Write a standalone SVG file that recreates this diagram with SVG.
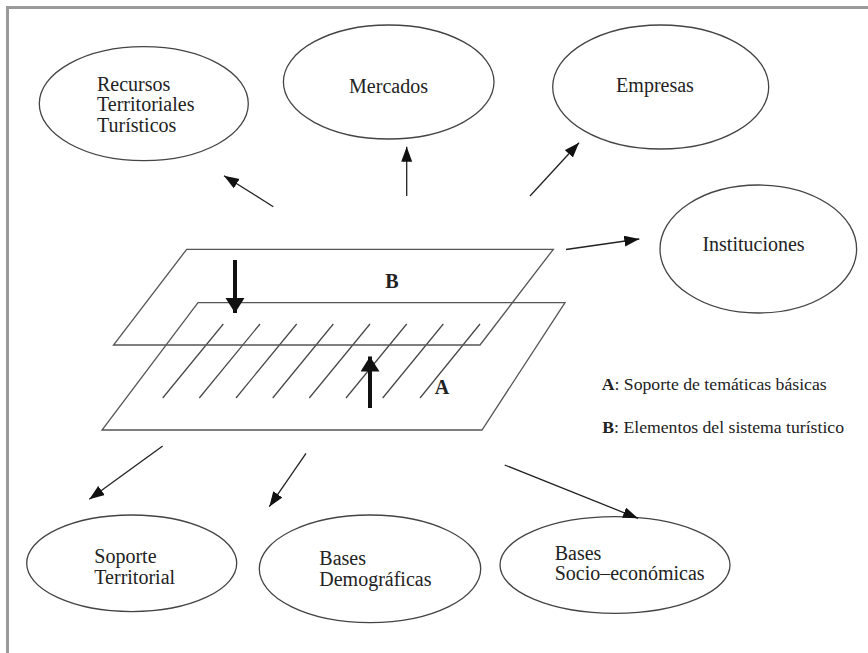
<svg xmlns="http://www.w3.org/2000/svg" width="868" height="653" viewBox="0 0 868 653">
<style>
.node ellipse{fill:#fff;stroke:#444;stroke-width:1.3}
.lbl{font-family:"Liberation Serif","DejaVu Serif",serif;font-size:20px;fill:#222}
.leg{font-family:"Liberation Serif","DejaVu Serif",serif;font-size:17.7px;fill:#222}
.bold{font-weight:bold}
.plane{fill:none;stroke:#555;stroke-width:1.3}
.hatch{stroke:#444;stroke-width:1.2}
.conn line{stroke:#222;stroke-width:1.3;marker-end:url(#ah)}
.thick{stroke:#111;stroke-width:4;marker-end:url(#ahb)}
</style>
<defs>
<marker id="ah" markerUnits="userSpaceOnUse" markerWidth="16" markerHeight="12" refX="15" refY="5.5" orient="auto">
<path d="M0,0 L15,5.5 L0,11 Z" fill="#111"/>
</marker>
<marker id="ahb" markerUnits="userSpaceOnUse" markerWidth="16" markerHeight="20" refX="15" refY="9.5" orient="auto">
<path d="M0,0 L15,9.5 L0,19 Z" fill="#111"/>
</marker>
</defs>
<rect width="868" height="653" fill="#fff"/>
<rect x="7.5" y="7.5" width="880" height="680" fill="none" stroke="#9a9a9a" stroke-width="3"/>

<g id="planes">
<polygon class="plane" points="198,302.7 565,302.7 482,430 102,430"/>
<g class="hatch">
<line x1="223.3" y1="324" x2="162.7" y2="398"/>
<line x1="260" y1="324" x2="199.3" y2="398"/>
<line x1="296.7" y1="324" x2="236" y2="398"/>
<line x1="333.3" y1="324" x2="272.7" y2="398"/>
<line x1="370" y1="324" x2="309.3" y2="398"/>
<line x1="406.7" y1="324" x2="346" y2="398"/>
<line x1="443.3" y1="324" x2="382.7" y2="398"/>
<line x1="480" y1="324" x2="420" y2="398"/>
</g>
<polygon class="plane" points="186.7,249.3 553.3,249.3 480,345 113.5,345"/>
<line class="thick" x1="235" y1="260" x2="235" y2="313"/>
<line class="thick" x1="370" y1="408" x2="370" y2="356.5"/>
<text class="lbl bold" x="392" y="288" text-anchor="middle">B</text>
<text class="lbl bold" x="442" y="394" text-anchor="middle">A</text>
</g>

<g id="recursos" class="node">
<ellipse cx="143.8" cy="103.7" rx="104.5" ry="57"/>
<text class="lbl"><tspan x="97" y="90.5">Recursos</tspan><tspan x="97" y="111">Territoriales</tspan><tspan x="97" y="131.5">Turísticos</tspan></text>
</g>
<g id="mercados" class="node">
<ellipse cx="388.7" cy="82" rx="105.3" ry="57"/>
<text class="lbl" x="388.5" y="93" text-anchor="middle">Mercados</text>
</g>
<g id="empresas" class="node">
<ellipse cx="660.7" cy="87" rx="108" ry="62"/>
<text class="lbl" x="655" y="92" text-anchor="middle">Empresas</text>
</g>
<g id="instituciones" class="node">
<ellipse cx="758.3" cy="249" rx="98.3" ry="64"/>
<text class="lbl" x="753.5" y="251" text-anchor="middle">Instituciones</text>
</g>
<g id="soporte" class="node">
<ellipse cx="131.7" cy="563.3" rx="105" ry="48.3"/>
<text class="lbl"><tspan x="94.3" y="563">Soporte</tspan><tspan x="94.3" y="583.5">Territorial</tspan></text>
</g>
<g id="demograficas" class="node">
<ellipse cx="370" cy="568.8" rx="110.7" ry="53.8"/>
<text class="lbl"><tspan x="319.3" y="565">Bases</tspan><tspan x="319.3" y="585.5">Demográficas</tspan></text>
</g>
<g id="socioeconomicas" class="node">
<ellipse cx="615" cy="565" rx="115" ry="48.3"/>
<text class="lbl"><tspan x="554.7" y="559.5">Bases</tspan><tspan x="554.7" y="580">Socio–económicas</tspan></text>
</g>

<g id="legend">
<text class="leg" x="601.7" y="390"><tspan class="bold">A</tspan>: Soporte de temáticas básicas</text>
<text class="leg" x="602.3" y="433.3"><tspan class="bold">B</tspan>: Elementos del sistema turístico</text>
</g>

<g id="connectors" class="conn">
<line x1="273.3" y1="206.7" x2="224" y2="175.7"/>
<line x1="406.7" y1="196" x2="406.7" y2="146.7"/>
<line x1="530" y1="196" x2="579" y2="142.7"/>
<line x1="566" y1="249.5" x2="639.3" y2="239"/>
<line x1="162.7" y1="446" x2="89.3" y2="499.3"/>
<line x1="306" y1="453.3" x2="269.3" y2="506.7"/>
<line x1="504.7" y1="465" x2="638" y2="518.3"/>
</g>
</svg>
